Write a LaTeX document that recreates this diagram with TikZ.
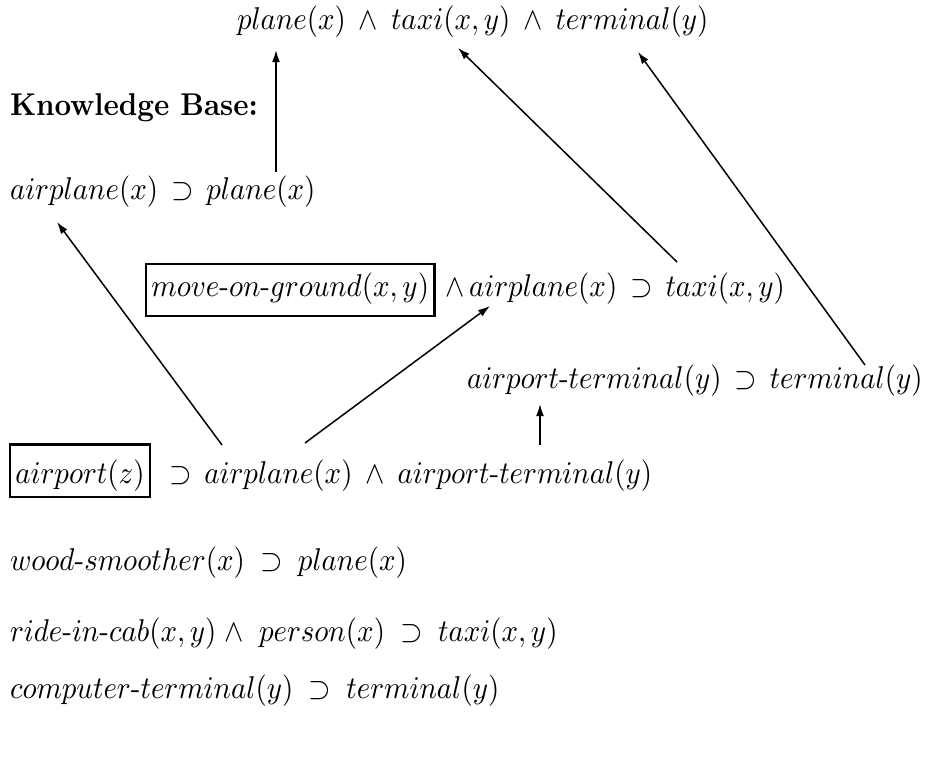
\documentclass[tikz,border=0pt]{standalone}
\usepackage{graphicx}
\usetikzlibrary{arrows.meta}
\newcommand{\hy}{\mbox{-}}
\newcommand{\sq}[1]{\scalebox{0.965}[1.05]{#1}}
\newcommand{\gp}{\mskip 8mu}
\newcommand{\gq}{\mskip 9.5mu}
\begin{document}
\begin{tikzpicture}[x=0.33333pt,y=-0.33333pt,
  fml/.style={anchor=base west, inner sep=0pt, outer sep=0pt},
  boxed/.style={draw, line width=0.8pt, inner xsep=1.8pt, inner ysep=0pt, outer sep=0pt, anchor=base west},
  link/.style={line width=0.5pt, -{Latex[length=4pt,width=2.6pt]}}]
\useasboundingbox (0,0) rectangle (925,763);
\node[fml] (goal) at (237,29) {\sq{$plane(x)\gp{\wedge}\gp taxi(x,y)\gp{\wedge}\gp terminal(y)$}};
\node[fml] (kb) at (10,115) {\sq{\bfseries Knowledge Base:}};
\node[fml] (r1) at (10,199) {\sq{$airplane(x)\gp{\supset}\gp plane(x)$}};
\node[boxed, text height=10.6pt, text depth=6.6pt] (mog) at (146,296) {\sq{$move\hy on\hy ground(x,y)$}};
\node[fml] (r2) at (445,296) {\sq{${\wedge}\,airplane(x)\gp{\supset}\gp taxi(x,y)$}};
\node[fml] (r3) at (467,388) {\sq{$airport\hy terminal(y)\gp{\supset}\gp terminal(y)$}};
\node[boxed, text height=12.9pt, text depth=4.6pt] (apz) at (10,483) {\sq{$airport(z)$}};
\node[fml] (r4) at (169,483) {\sq{${\supset}\gp airplane(x)\gp{\wedge}\gp airport\hy terminal(y)$}};
\node[fml] (r5) at (10,570) {\sq{$wood\hy smoother(x)\gq{\supset}\gq plane(x)$}};
\node[fml] (r6) at (10,641) {\sq{$ride\hy in\hy cab(x,y)\;{\wedge}\gq person(x)\gq{\supset}\gq taxi(x,y)$}};
\node[fml] (r7) at (10,698) {\sq{$computer\hy terminal(y)\gq{\supset}\gq terminal(y)$}};
% connector end points
\coordinate (a1s) at (276,172); \coordinate (a1e) at (276,50);
\coordinate (a2s) at (222,445); \coordinate (a2e) at (57,222);
\coordinate (a3s) at (305,443); \coordinate (a3e) at (490,306);
\coordinate (a4s) at (540,445); \coordinate (a4e) at (540,404);
\coordinate (a5s) at (677,262); \coordinate (a5e) at (458,48);
\coordinate (a6s) at (865,365); \coordinate (a6e) at (638,52);
\draw[link] (a1s) -- (a1e);
\draw[link] (a2s) -- (a2e);
\draw[link] (a3s) -- (a3e);
\draw[link] (a4s) -- (a4e);
\draw[link] (a5s) -- (a5e);
\draw[link] (a6s) -- (a6e);
\end{tikzpicture}
\end{document}
